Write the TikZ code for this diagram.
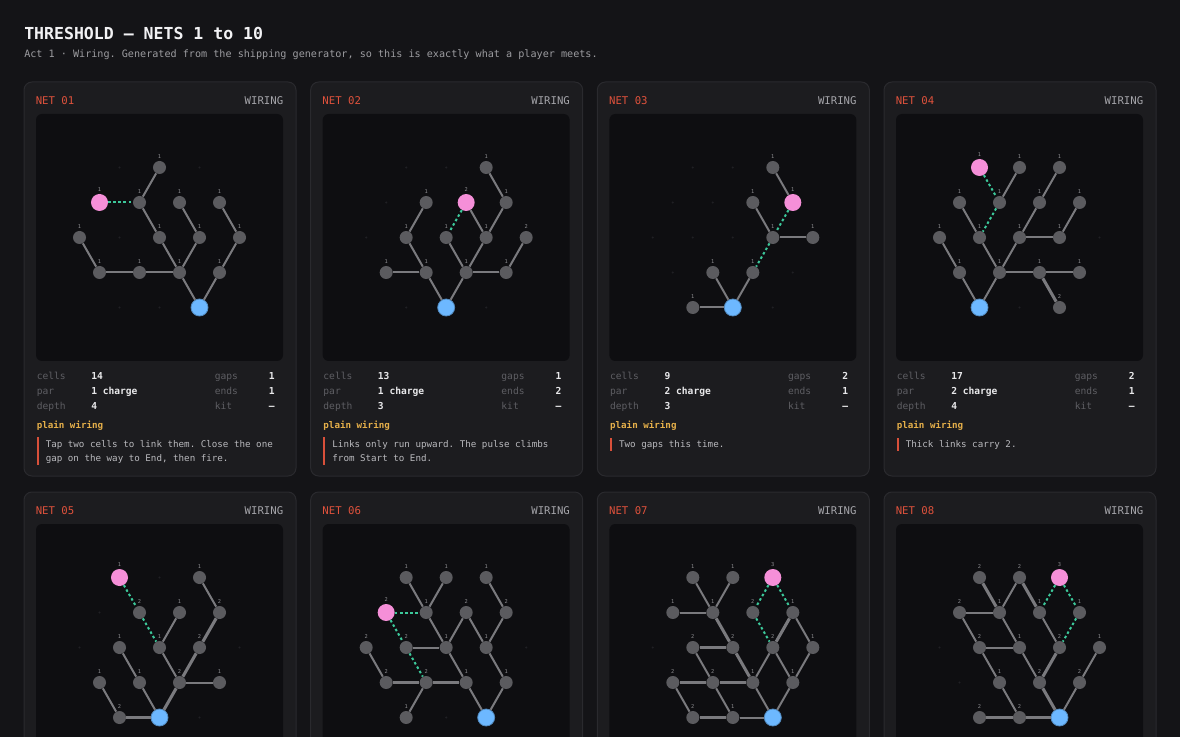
\documentclass[tikz,border=0pt]{standalone}
\usepackage{fontspec}
\setmonofont{DejaVu Sans Mono}
\usepackage{tikz}

\definecolor{pagebg}{HTML}{141417}
\definecolor{cardbg}{HTML}{1C1C1F}
\definecolor{cardline}{HTML}{2A2A2E}
\definecolor{panelbg}{HTML}{0E0E11}
\definecolor{griddot}{HTML}{202024}
\definecolor{cellgray}{HTML}{5B5B5F}
\definecolor{wiregray}{HTML}{7A7A7E}
\definecolor{srcpink}{HTML}{F58FD8}
\definecolor{sinkblue}{HTML}{6DB8FF}
\definecolor{gapgreen}{HTML}{3CC89A}
\definecolor{netred}{HTML}{E0523C}
\definecolor{kindgray}{HTML}{A5A5AA}
\definecolor{keygray}{HTML}{5E5E63}
\definecolor{valwhite}{HTML}{E8E8EA}
\definecolor{hintamber}{HTML}{E6B04A}
\definecolor{barred}{HTML}{D8503A}
\definecolor{notegray}{HTML}{B9B9BD}
\definecolor{taggray}{HTML}{8C8C90}
\definecolor{titlewhite}{HTML}{F2F2F4}
\definecolor{subgray}{HTML}{9C9CA0}

\newcommand\ftitle{\ttfamily\bfseries\fontsize{12.4}{15}\selectfont}
\newcommand\fsub{\ttfamily\fontsize{7.6}{9}\selectfont}
\newcommand\fhead{\ttfamily\fontsize{8}{10}\selectfont}
\newcommand\fstat{\ttfamily\fontsize{7.2}{9}\selectfont}
\newcommand\fnote{\ttfamily\fontsize{6.9}{9}\selectfont}
\newcommand\ftag{\ttfamily\fontsize{4}{5}\selectfont}

% empty lattice spots of a net (19 points of the hexagon)
\def\hexpts{-40/-70,0/-70,40/-70,-60/-35,-20/-35,20/-35,60/-35,-80/0,-40/0,0/0,40/0,80/0,-60/35,-20/35,20/35,60/35,-40/70,0/70,40/70}

\tikzset{
  card/.style={fill=cardbg, draw=cardline, line width=0.75pt, rounded corners=6pt},
  panel/.style={fill=panelbg, rounded corners=4.5pt},
  tag/.style={font=\ftag, text=taggray, inner sep=0pt},
  cell/.style={circle, fill=cellgray, inner sep=0pt, minimum size=9.75pt},
  cell1/.style={cell, label={[tag]above:1}},
  cell2/.style={cell, label={[tag]above:2}},
  src/.style={circle, fill=srcpink, inner sep=0pt, minimum size=12.75pt},
  src1/.style={src, label={[tag]above:1}},
  src2/.style={src, label={[tag]above:2}},
  src3/.style={src, label={[tag]above:3}},
  sink/.style={circle, fill=sinkblue, draw=sinkblue!75!black, line width=0.6pt, inner sep=0pt, minimum size=12.75pt},
  wire/.style={draw=wiregray, line width=1.5pt},
  wire2/.style={draw=wiregray, line width=2.3pt},
  gapwire/.style={draw=gapgreen, line width=1.5pt, dash pattern=on 1.9pt off 1.9pt},
  nettag/.style={font=\fhead, text=netred, inner sep=0pt, text height=1.5ex, text depth=0pt},
  kindtag/.style={font=\fhead, text=kindgray, inner sep=0pt, text height=1.5ex, text depth=0pt},
  statkey/.style={font=\fstat, text=keygray, inner sep=0pt, text height=1.3ex, text depth=0pt},
  statval/.style={font=\fstat\bfseries, text=valwhite, inner sep=0pt, text height=1.3ex, text depth=0pt},
  hint/.style={font=\fnote\bfseries, text=hintamber, inner sep=0pt, text height=1.3ex, text depth=0pt},
  note/.style={font=\fnote, text=notegray, inner sep=0pt, text height=1.3ex, text depth=0pt},
}

\begin{document}
\begin{tikzpicture}[x=0.75pt,y=0.75pt,yscale=-1,xscale=1,label distance=1.4pt]
  \useasboundingbox (0,0) rectangle (1180,737);
  \clip (0,0) rectangle (1180,737);
  \fill[pagebg] (0,0) rectangle (1180,737);

  % Text Node
  \node[font=\ftitle, text=titlewhite, anchor=west, inner sep=0pt] (ttl) at (24,33) {THRESHOLD — NETS 1 to 10};
  % Text Node
  \node[font=\fsub, text=subgray, anchor=west, inner sep=0pt] (sub) at (24,55) {Act 1 · Wiring. Generated from the shipping generator, so this is exactly what a player meets.};

  %%%%%%%%%%%%%%%% NET 01
  \begin{scope}[shift={(24,82)}]
    \draw[card] (0,0) rectangle (272,394);
    \fill[panel] (12,32) rectangle (259,279);
    \node[nettag, anchor=west] (a-net) at (11.5,18) {NET 01};
    \node[kindtag, anchor=east] (a-kind) at (259.5,18) {WIRING};
    \begin{scope}[shift={(135.5,155.5)}]
      \foreach \gx/\gy in \hexpts {\fill[griddot] (\gx,\gy) circle (1.1);}
      \node[cell1] (a1) at (0,-70) {};
      \node[src1] (a2) at (-60,-35) {};
      \node[cell1] (a3) at (-20,-35) {};
      \node[cell1] (a4) at (20,-35) {};
      \node[cell1] (a5) at (60,-35) {};
      \node[cell1] (a6) at (-80,0) {};
      \node[cell1] (a7) at (0,0) {};
      \node[cell1] (a8) at (40,0) {};
      \node[cell1] (a9) at (80,0) {};
      \node[cell1] (a10) at (-60,35) {};
      \node[cell1] (a11) at (-20,35) {};
      \node[cell1] (a12) at (20,35) {};
      \node[cell1] (a13) at (60,35) {};
      \node[sink] (a14) at (40,70) {};
      \draw[gapwire] (a2) -- (a3);
      \draw[wire] (a1) -- (a3);
      \draw[wire] (a3) -- (a7);
      \draw[wire] (a7) -- (a12);
      \draw[wire] (a4) -- (a8);
      \draw[wire] (a8) -- (a12);
      \draw[wire] (a5) -- (a9);
      \draw[wire] (a9) -- (a13);
      \draw[wire] (a6) -- (a10);
      \draw[wire] (a10) -- (a11);
      \draw[wire] (a11) -- (a12);
      \draw[wire] (a12) -- (a14);
      \draw[wire] (a13) -- (a14);
    \end{scope}
    \node[statkey, anchor=west] (a-k1) at (12.5,294) {cells};
    \node[statval, anchor=west] (a-v1) at (67,294) {14};
    \node[statkey, anchor=west] (a-k2) at (12.5,309) {par};
    \node[statval, anchor=west] (a-v2) at (67,309) {1 charge};
    \node[statkey, anchor=west] (a-k3) at (12.5,324) {depth};
    \node[statval, anchor=west] (a-v3) at (67,324) {4};
    \node[statkey, anchor=west] (a-k4) at (190.5,294) {gaps};
    \node[statval, anchor=east] (a-v4) at (251,294) {1};
    \node[statkey, anchor=west] (a-k5) at (190.5,309) {ends};
    \node[statval, anchor=east] (a-v5) at (251,309) {1};
    \node[statkey, anchor=west] (a-k6) at (190.5,324) {kit};
    \node[statval, anchor=east] (a-v6) at (251,324) {—};
    \node[hint, anchor=west] (a-hint) at (12.5,343) {plain wiring};
    \fill[barred] (12.5,355) rectangle (14.5,383);
    \node[note, anchor=west] (a-n1) at (21.5,362) {Tap two cells to link them. Close the one};
    \node[note, anchor=west] (a-n2) at (21.5,376) {gap on the way to End, then fire.};
  \end{scope}

  %%%%%%%%%%%%%%%% NET 02
  \begin{scope}[shift={(310.67,82)}]
    \draw[card] (0,0) rectangle (272,394);
    \fill[panel] (12,32) rectangle (259,279);
    \node[nettag, anchor=west] (b-net) at (11.5,18) {NET 02};
    \node[kindtag, anchor=east] (b-kind) at (259.5,18) {WIRING};
    \begin{scope}[shift={(135.5,155.5)}]
      \foreach \gx/\gy in \hexpts {\fill[griddot] (\gx,\gy) circle (1.1);}
      \node[cell1] (b1) at (40,-70) {};
      \node[cell1] (b2) at (-20,-35) {};
      \node[src2] (b3) at (20,-35) {};
      \node[cell1] (b4) at (60,-35) {};
      \node[cell1] (b5) at (-40,0) {};
      \node[cell1] (b6) at (0,0) {};
      \node[cell1] (b7) at (40,0) {};
      \node[cell2] (b8) at (80,0) {};
      \node[cell1] (b9) at (-60,35) {};
      \node[cell1] (b10) at (-20,35) {};
      \node[cell1] (b11) at (20,35) {};
      \node[cell1] (b12) at (60,35) {};
      \node[sink] (b13) at (0,70) {};
      \draw[gapwire] (b3) -- (b6);
      \draw[wire] (b1) -- (b4);
      \draw[wire] (b4) -- (b7);
      \draw[wire] (b3) -- (b7);
      \draw[wire] (b2) -- (b5);
      \draw[wire] (b5) -- (b10);
      \draw[wire] (b9) -- (b10);
      \draw[wire] (b10) -- (b13);
      \draw[wire] (b6) -- (b11);
      \draw[wire] (b7) -- (b11);
      \draw[wire] (b11) -- (b13);
      \draw[wire] (b11) -- (b12);
      \draw[wire] (b8) -- (b12);
    \end{scope}
    \node[statkey, anchor=west] (b-k1) at (12.5,294) {cells};
    \node[statval, anchor=west] (b-v1) at (67,294) {13};
    \node[statkey, anchor=west] (b-k2) at (12.5,309) {par};
    \node[statval, anchor=west] (b-v2) at (67,309) {1 charge};
    \node[statkey, anchor=west] (b-k3) at (12.5,324) {depth};
    \node[statval, anchor=west] (b-v3) at (67,324) {3};
    \node[statkey, anchor=west] (b-k4) at (190.5,294) {gaps};
    \node[statval, anchor=east] (b-v4) at (251,294) {1};
    \node[statkey, anchor=west] (b-k5) at (190.5,309) {ends};
    \node[statval, anchor=east] (b-v5) at (251,309) {2};
    \node[statkey, anchor=west] (b-k6) at (190.5,324) {kit};
    \node[statval, anchor=east] (b-v6) at (251,324) {—};
    \node[hint, anchor=west] (b-hint) at (12.5,343) {plain wiring};
    \fill[barred] (12.5,355) rectangle (14.5,383);
    \node[note, anchor=west] (b-n1) at (21.5,362) {Links only run upward. The pulse climbs};
    \node[note, anchor=west] (b-n2) at (21.5,376) {from Start to End.};
  \end{scope}

  %%%%%%%%%%%%%%%% NET 03
  \begin{scope}[shift={(597.33,82)}]
    \draw[card] (0,0) rectangle (272,394);
    \fill[panel] (12,32) rectangle (259,279);
    \node[nettag, anchor=west] (c-net) at (11.5,18) {NET 03};
    \node[kindtag, anchor=east] (c-kind) at (259.5,18) {WIRING};
    \begin{scope}[shift={(135.5,155.5)}]
      \foreach \gx/\gy in \hexpts {\fill[griddot] (\gx,\gy) circle (1.1);}
      \node[cell1] (c1) at (40,-70) {};
      \node[cell1] (c2) at (20,-35) {};
      \node[src1] (c3) at (60,-35) {};
      \node[cell1] (c4) at (40,0) {};
      \node[cell1] (c5) at (80,0) {};
      \node[cell1] (c6) at (-20,35) {};
      \node[cell1] (c7) at (20,35) {};
      \node[cell1] (c8) at (-40,70) {};
      \node[sink] (c9) at (0,70) {};
      \draw[gapwire] (c3) -- (c4);
      \draw[gapwire] (c4) -- (c7);
      \draw[wire] (c1) -- (c3);
      \draw[wire] (c2) -- (c4);
      \draw[wire] (c4) -- (c5);
      \draw[wire] (c7) -- (c9);
      \draw[wire] (c6) -- (c9);
      \draw[wire] (c8) -- (c9);
    \end{scope}
    \node[statkey, anchor=west] (c-k1) at (12.5,294) {cells};
    \node[statval, anchor=west] (c-v1) at (67,294) {9};
    \node[statkey, anchor=west] (c-k2) at (12.5,309) {par};
    \node[statval, anchor=west] (c-v2) at (67,309) {2 charge};
    \node[statkey, anchor=west] (c-k3) at (12.5,324) {depth};
    \node[statval, anchor=west] (c-v3) at (67,324) {3};
    \node[statkey, anchor=west] (c-k4) at (190.5,294) {gaps};
    \node[statval, anchor=east] (c-v4) at (251,294) {2};
    \node[statkey, anchor=west] (c-k5) at (190.5,309) {ends};
    \node[statval, anchor=east] (c-v5) at (251,309) {1};
    \node[statkey, anchor=west] (c-k6) at (190.5,324) {kit};
    \node[statval, anchor=east] (c-v6) at (251,324) {—};
    \node[hint, anchor=west] (c-hint) at (12.5,343) {plain wiring};
    \fill[barred] (12.5,356) rectangle (14.5,369);
    \node[note, anchor=west] (c-n1) at (21.5,362) {Two gaps this time.};
  \end{scope}

  %%%%%%%%%%%%%%%% NET 04
  \begin{scope}[shift={(884,82)}]
    \draw[card] (0,0) rectangle (272,394);
    \fill[panel] (12,32) rectangle (259,279);
    \node[nettag, anchor=west] (d-net) at (11.5,18) {NET 04};
    \node[kindtag, anchor=east] (d-kind) at (259.5,18) {WIRING};
    \begin{scope}[shift={(135.5,155.5)}]
      \foreach \gx/\gy in \hexpts {\fill[griddot] (\gx,\gy) circle (1.1);}
      \node[src1] (d1) at (-40,-70) {};
      \node[cell1] (d2) at (0,-70) {};
      \node[cell1] (d3) at (40,-70) {};
      \node[cell1] (d4) at (-60,-35) {};
      \node[cell1] (d5) at (-20,-35) {};
      \node[cell1] (d6) at (20,-35) {};
      \node[cell1] (d7) at (60,-35) {};
      \node[cell1] (d8) at (-80,0) {};
      \node[cell1] (d9) at (-40,0) {};
      \node[cell1] (d10) at (0,0) {};
      \node[cell1] (d11) at (40,0) {};
      \node[cell1] (d12) at (-60,35) {};
      \node[cell1] (d13) at (-20,35) {};
      \node[cell1] (d14) at (20,35) {};
      \node[cell1] (d15) at (60,35) {};
      \node[sink] (d16) at (-40,70) {};
      \node[cell2] (d17) at (40,70) {};
      \draw[gapwire] (d1) -- (d5);
      \draw[gapwire] (d5) -- (d9);
      \draw[wire] (d2) -- (d5);
      \draw[wire] (d4) -- (d9);
      \draw[wire] (d9) -- (d13);
      \draw[wire] (d3) -- (d6);
      \draw[wire] (d6) -- (d10);
      \draw[wire] (d10) -- (d11);
      \draw[wire] (d7) -- (d11);
      \draw[wire] (d10) -- (d13);
      \draw[wire] (d8) -- (d12);
      \draw[wire] (d12) -- (d16);
      \draw[wire] (d13) -- (d16);
      \draw[wire] (d13) -- (d14);
      \draw[wire] (d14) -- (d15);
      \draw[wire2] (d14) -- (d17);
    \end{scope}
    \node[statkey, anchor=west] (d-k1) at (12.5,294) {cells};
    \node[statval, anchor=west] (d-v1) at (67,294) {17};
    \node[statkey, anchor=west] (d-k2) at (12.5,309) {par};
    \node[statval, anchor=west] (d-v2) at (67,309) {2 charge};
    \node[statkey, anchor=west] (d-k3) at (12.5,324) {depth};
    \node[statval, anchor=west] (d-v3) at (67,324) {4};
    \node[statkey, anchor=west] (d-k4) at (190.5,294) {gaps};
    \node[statval, anchor=east] (d-v4) at (251,294) {2};
    \node[statkey, anchor=west] (d-k5) at (190.5,309) {ends};
    \node[statval, anchor=east] (d-v5) at (251,309) {1};
    \node[statkey, anchor=west] (d-k6) at (190.5,324) {kit};
    \node[statval, anchor=east] (d-v6) at (251,324) {—};
    \node[hint, anchor=west] (d-hint) at (12.5,343) {plain wiring};
    \fill[barred] (12.5,356) rectangle (14.5,369);
    \node[note, anchor=west] (d-n1) at (21.5,362) {Thick links carry 2.};
  \end{scope}

  %%%%%%%%%%%%%%%% NET 05
  \begin{scope}[shift={(24,492)}]
    \draw[card] (0,0) rectangle (272,394);
    \fill[panel] (12,32) rectangle (259,279);
    \node[nettag, anchor=west] (e-net) at (11.5,18) {NET 05};
    \node[kindtag, anchor=east] (e-kind) at (259.5,18) {WIRING};
    \begin{scope}[shift={(135.5,155.5)}]
      \foreach \gx/\gy in \hexpts {\fill[griddot] (\gx,\gy) circle (1.1);}
      \node[src1] (e1) at (-40,-70) {};
      \node[cell1] (e2) at (40,-70) {};
      \node[cell2] (e3) at (-20,-35) {};
      \node[cell1] (e4) at (20,-35) {};
      \node[cell2] (e5) at (60,-35) {};
      \node[cell1] (e6) at (-40,0) {};
      \node[cell1] (e7) at (0,0) {};
      \node[cell2] (e8) at (40,0) {};
      \node[cell1] (e9) at (-60,35) {};
      \node[cell1] (e10) at (-20,35) {};
      \node[cell2] (e11) at (20,35) {};
      \node[cell1] (e12) at (60,35) {};
      \node[cell2] (e13) at (-40,70) {};
      \node[sink] (e14) at (0,70) {};
      \draw[gapwire] (e1) -- (e3);
      \draw[gapwire] (e3) -- (e7);
      \draw[wire] (e2) -- (e5);
      \draw[wire2] (e5) -- (e8);
      \draw[wire2] (e8) -- (e11);
      \draw[wire] (e4) -- (e7);
      \draw[wire] (e7) -- (e11);
      \draw[wire] (e6) -- (e10);
      \draw[wire] (e10) -- (e14);
      \draw[wire2] (e11) -- (e14);
      \draw[wire] (e11) -- (e12);
      \draw[wire] (e9) -- (e13);
      \draw[wire2] (e13) -- (e14);
    \end{scope}
  \end{scope}

  %%%%%%%%%%%%%%%% NET 06
  \begin{scope}[shift={(310.67,492)}]
    \draw[card] (0,0) rectangle (272,394);
    \fill[panel] (12,32) rectangle (259,279);
    \node[nettag, anchor=west] (f-net) at (11.5,18) {NET 06};
    \node[kindtag, anchor=east] (f-kind) at (259.5,18) {WIRING};
    \begin{scope}[shift={(135.5,155.5)}]
      \foreach \gx/\gy in \hexpts {\fill[griddot] (\gx,\gy) circle (1.1);}
      \node[cell1] (f1) at (-40,-70) {};
      \node[cell1] (f2) at (0,-70) {};
      \node[cell1] (f3) at (40,-70) {};
      \node[src2] (f4) at (-60,-35) {};
      \node[cell1] (f5) at (-20,-35) {};
      \node[cell2] (f6) at (20,-35) {};
      \node[cell2] (f7) at (60,-35) {};
      \node[cell2] (f8) at (-80,0) {};
      \node[cell2] (f9) at (-40,0) {};
      \node[cell1] (f10) at (0,0) {};
      \node[cell1] (f11) at (40,0) {};
      \node[cell2] (f12) at (-60,35) {};
      \node[cell2] (f13) at (-20,35) {};
      \node[cell1] (f14) at (20,35) {};
      \node[cell1] (f15) at (60,35) {};
      \node[cell1] (f16) at (-40,70) {};
      \node[sink] (f17) at (40,70) {};
      \draw[gapwire] (f4) -- (f5);
      \draw[gapwire] (f4) -- (f9);
      \draw[gapwire] (f9) -- (f13);
      \draw[wire] (f1) -- (f5);
      \draw[wire] (f2) -- (f5);
      \draw[wire] (f5) -- (f10);
      \draw[wire] (f10) -- (f6);
      \draw[wire] (f6) -- (f11);
      \draw[wire] (f3) -- (f7);
      \draw[wire] (f7) -- (f11);
      \draw[wire] (f9) -- (f10);
      \draw[wire] (f10) -- (f14);
      \draw[wire] (f11) -- (f15);
      \draw[wire] (f8) -- (f12);
      \draw[wire2] (f12) -- (f13);
      \draw[wire2] (f13) -- (f14);
      \draw[wire] (f13) -- (f16);
      \draw[wire] (f14) -- (f17);
      \draw[wire] (f15) -- (f17);
    \end{scope}
  \end{scope}

  %%%%%%%%%%%%%%%% NET 07
  \begin{scope}[shift={(597.33,492)}]
    \draw[card] (0,0) rectangle (272,394);
    \fill[panel] (12,32) rectangle (259,279);
    \node[nettag, anchor=west] (g-net) at (11.5,18) {NET 07};
    \node[kindtag, anchor=east] (g-kind) at (259.5,18) {WIRING};
    \begin{scope}[shift={(135.5,155.5)}]
      \foreach \gx/\gy in \hexpts {\fill[griddot] (\gx,\gy) circle (1.1);}
      \node[cell1] (g1) at (-40,-70) {};
      \node[cell1] (g2) at (0,-70) {};
      \node[src3] (g3) at (40,-70) {};
      \node[cell1] (g4) at (-60,-35) {};
      \node[cell1] (g5) at (-20,-35) {};
      \node[cell2] (g6) at (20,-35) {};
      \node[cell1] (g7) at (60,-35) {};
      \node[cell2] (g8) at (-40,0) {};
      \node[cell2] (g9) at (0,0) {};
      \node[cell2] (g10) at (40,0) {};
      \node[cell1] (g11) at (80,0) {};
      \node[cell2] (g12) at (-60,35) {};
      \node[cell2] (g13) at (-20,35) {};
      \node[cell1] (g14) at (20,35) {};
      \node[cell1] (g15) at (60,35) {};
      \node[cell2] (g16) at (-40,70) {};
      \node[cell1] (g17) at (0,70) {};
      \node[sink] (g18) at (40,70) {};
      \draw[gapwire] (g3) -- (g6);
      \draw[gapwire] (g3) -- (g7);
      \draw[gapwire] (g6) -- (g10);
      \draw[wire] (g1) -- (g5);
      \draw[wire] (g2) -- (g5);
      \draw[wire] (g4) -- (g5);
      \draw[wire2] (g5) -- (g9);
      \draw[wire2] (g7) -- (g10);
      \draw[wire] (g7) -- (g11);
      \draw[wire2] (g8) -- (g9);
      \draw[wire] (g8) -- (g13);
      \draw[wire2] (g9) -- (g14);
      \draw[wire] (g10) -- (g14);
      \draw[wire] (g10) -- (g15);
      \draw[wire] (g11) -- (g15);
      \draw[wire2] (g12) -- (g13);
      \draw[wire2] (g13) -- (g14);
      \draw[wire] (g12) -- (g16);
      \draw[wire] (g13) -- (g17);
      \draw[wire2] (g16) -- (g17);
      \draw[wire] (g17) -- (g18);
      \draw[wire] (g14) -- (g18);
      \draw[wire] (g15) -- (g18);
    \end{scope}
  \end{scope}

  %%%%%%%%%%%%%%%% NET 08
  \begin{scope}[shift={(884,492)}]
    \draw[card] (0,0) rectangle (272,394);
    \fill[panel] (12,32) rectangle (259,279);
    \node[nettag, anchor=west] (h-net) at (11.5,18) {NET 08};
    \node[kindtag, anchor=east] (h-kind) at (259.5,18) {WIRING};
    \begin{scope}[shift={(135.5,155.5)}]
      \foreach \gx/\gy in \hexpts {\fill[griddot] (\gx,\gy) circle (1.1);}
      \node[cell2] (h1) at (-40,-70) {};
      \node[cell2] (h2) at (0,-70) {};
      \node[src3] (h3) at (40,-70) {};
      \node[cell2] (h4) at (-60,-35) {};
      \node[cell1] (h5) at (-20,-35) {};
      \node[cell1] (h6) at (20,-35) {};
      \node[cell1] (h7) at (60,-35) {};
      \node[cell2] (h8) at (-40,0) {};
      \node[cell1] (h9) at (0,0) {};
      \node[cell2] (h10) at (40,0) {};
      \node[cell1] (h11) at (80,0) {};
      \node[cell1] (h12) at (-20,35) {};
      \node[cell2] (h13) at (20,35) {};
      \node[cell2] (h14) at (60,35) {};
      \node[cell2] (h15) at (-40,70) {};
      \node[cell2] (h16) at (0,70) {};
      \node[sink] (h17) at (40,70) {};
      \draw[gapwire] (h3) -- (h6);
      \draw[gapwire] (h3) -- (h7);
      \draw[gapwire] (h7) -- (h10);
      \draw[wire2] (h1) -- (h5);
      \draw[wire] (h2) -- (h5);
      \draw[wire2] (h2) -- (h6);
      \draw[wire] (h4) -- (h5);
      \draw[wire] (h4) -- (h8);
      \draw[wire] (h5) -- (h9);
      \draw[wire] (h6) -- (h10);
      \draw[wire] (h8) -- (h9);
      \draw[wire] (h8) -- (h12);
      \draw[wire] (h9) -- (h13);
      \draw[wire2] (h10) -- (h13);
      \draw[wire] (h11) -- (h14);
      \draw[wire] (h12) -- (h16);
      \draw[wire2] (h13) -- (h17);
      \draw[wire] (h14) -- (h17);
      \draw[wire2] (h15) -- (h16);
      \draw[wire2] (h16) -- (h17);
    \end{scope}
  \end{scope}

\end{tikzpicture}
\end{document}
